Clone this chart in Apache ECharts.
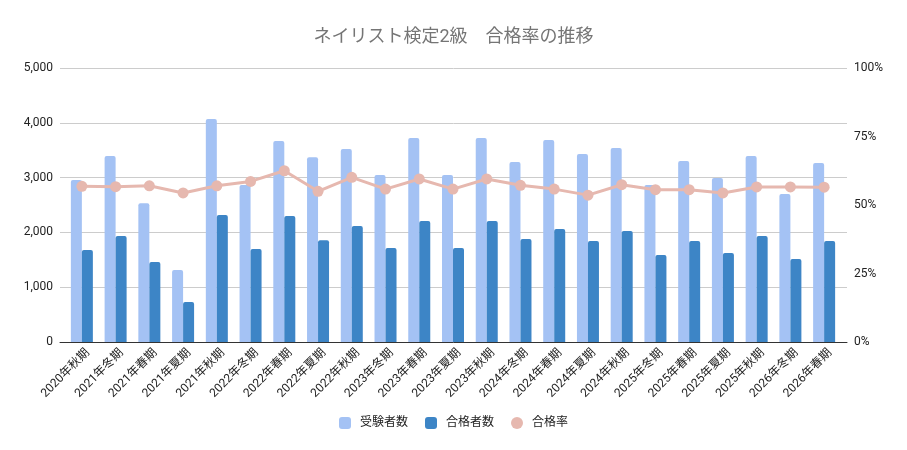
<!DOCTYPE html>
<html>
<head>
<meta charset="utf-8">
<script src="https://cdn.jsdelivr.net/npm/echarts@6/dist/echarts.min.js"></script>
<style>
  html, body { margin: 0; padding: 0; background: #fff; }
  #main { width: 907px; height: 450px; }
</style>
</head>
<body>
<div id="main"></div>
<script>
var categories = [
  '2020年秋期', '2021年冬期', '2021年春期', '2021年夏期', '2021年秋期',
  '2022年冬期', '2022年春期', '2022年夏期', '2022年秋期', '2023年冬期',
  '2023年春期', '2023年夏期', '2023年秋期', '2024年冬期', '2024年春期',
  '2024年夏期', '2024年秋期', '2025年冬期', '2025年春期', '2025年夏期',
  '2025年秋期', '2026年冬期', '2026年春期'
];
var examinees = [2956, 3394, 2531, 1314, 4069, 2865, 3668, 3370, 3522, 3047,
  3723, 3047, 3723, 3285, 3686, 3431, 3540, 2865, 3303, 2993, 3394, 2701, 3266];
var passers = [1679, 1934, 1460, 730, 2318, 1697, 2299, 1855, 2117, 1715,
  2208, 1715, 2208, 1880, 2062, 1843, 2025, 1588, 1843, 1624, 1934, 1515, 1843];
var passRate = [0.568, 0.567, 0.570, 0.544, 0.570, 0.586, 0.625, 0.550, 0.601, 0.558,
  0.595, 0.558, 0.595, 0.572, 0.558, 0.536, 0.574, 0.556, 0.556, 0.544, 0.566, 0.566, 0.565];

var font = 'Roboto, Arial, "Noto Sans CJK JP", sans-serif';
var chart = echarts.init(document.getElementById('main'));

chart.setOption({
  animation: false,
  textStyle: { fontFamily: font },
  title: {
    text: 'ネイリスト検定2級　合格率の推移',
    left: 'center',
    top: 24,
    textStyle: { fontSize: 18, fontWeight: 'normal', color: '#757575', fontFamily: font }
  },
  legend: {
    top: 412,
    left: 'center',
    itemWidth: 12,
    itemHeight: 12,
    itemGap: 17,
    textStyle: { fontSize: 12, color: '#222', fontFamily: font, padding: [0, 0, 0, 4] },
    data: [
      { name: '受験者数', icon: 'roundRect' },
      { name: '合格者数', icon: 'roundRect' },
      { name: '合格率', icon: 'circle' }
    ]
  },
  // grid 0: frame with gridlines and tick labels, grid 1: the data (inset like the original),
  // grid 2: category labels, nudged a little to the right
  grid: [
    { left: 60, right: 60, top: 68, bottom: 108 },
    { left: 65, right: 66, top: 68, bottom: 108 },
    { left: 71, right: 60, top: 68, bottom: 108 }
  ],
  xAxis: [{
    type: 'category',
    gridIndex: 0,
    data: categories,
    axisTick: { show: false },
    axisLabel: { show: false },
    axisLine: { lineStyle: { color: '#333' } }
  }, {
    type: 'category',
    gridIndex: 1,
    data: categories,
    axisTick: { show: false },
    axisLine: { show: false },
    axisLabel: { show: false }
  }, {
    type: 'category',
    gridIndex: 2,
    data: categories,
    axisTick: { show: false },
    axisLine: { show: false },
    axisLabel: { rotate: 45, fontSize: 12, color: '#222', interval: 0, margin: 9 }
  }],
  yAxis: [{
    type: 'value',
    gridIndex: 0,
    min: 0,
    max: 5000,
    interval: 1000,
    axisLabel: {
      fontSize: 12, color: '#222', margin: 7,
      formatter: function (v) { return v.toLocaleString('en-US'); }
    },
    splitLine: { lineStyle: { color: '#ccc' } }
  }, {
    type: 'value',
    gridIndex: 0,
    position: 'right',
    min: 0,
    max: 1,
    interval: 0.25,
    axisLabel: {
      fontSize: 12, color: '#222', margin: 7,
      formatter: function (v) { return Math.round(v * 100) + '%'; }
    },
    splitLine: { show: false }
  }, {
    type: 'value',
    gridIndex: 1,
    min: 0,
    max: 5000,
    show: false
  }, {
    type: 'value',
    gridIndex: 1,
    min: 0,
    max: 1,
    show: false
  }, {
    type: 'value',
    gridIndex: 2,
    show: false
  }],
  series: [{
    name: '受験者数',
    type: 'bar',
    xAxisIndex: 1,
    yAxisIndex: 2,
    data: examinees,
    barGap: '0%',
    barWidth: 11,
    itemStyle: { color: '#a4c2f4', borderRadius: [2, 2, 0, 0] }
  }, {
    name: '合格者数',
    type: 'bar',
    xAxisIndex: 1,
    yAxisIndex: 2,
    data: passers,
    barWidth: 11,
    itemStyle: { color: '#3d85c6', borderRadius: [2, 2, 0, 0] }
  }, {
    name: '合格率',
    type: 'line',
    xAxisIndex: 1,
    yAxisIndex: 3,
    data: passRate,
    symbol: 'circle',
    symbolSize: 11,
    lineStyle: { color: '#e6b8af', width: 3 },
    itemStyle: { color: '#e6b8af' }
  }]
});
</script>
</body>
</html>
